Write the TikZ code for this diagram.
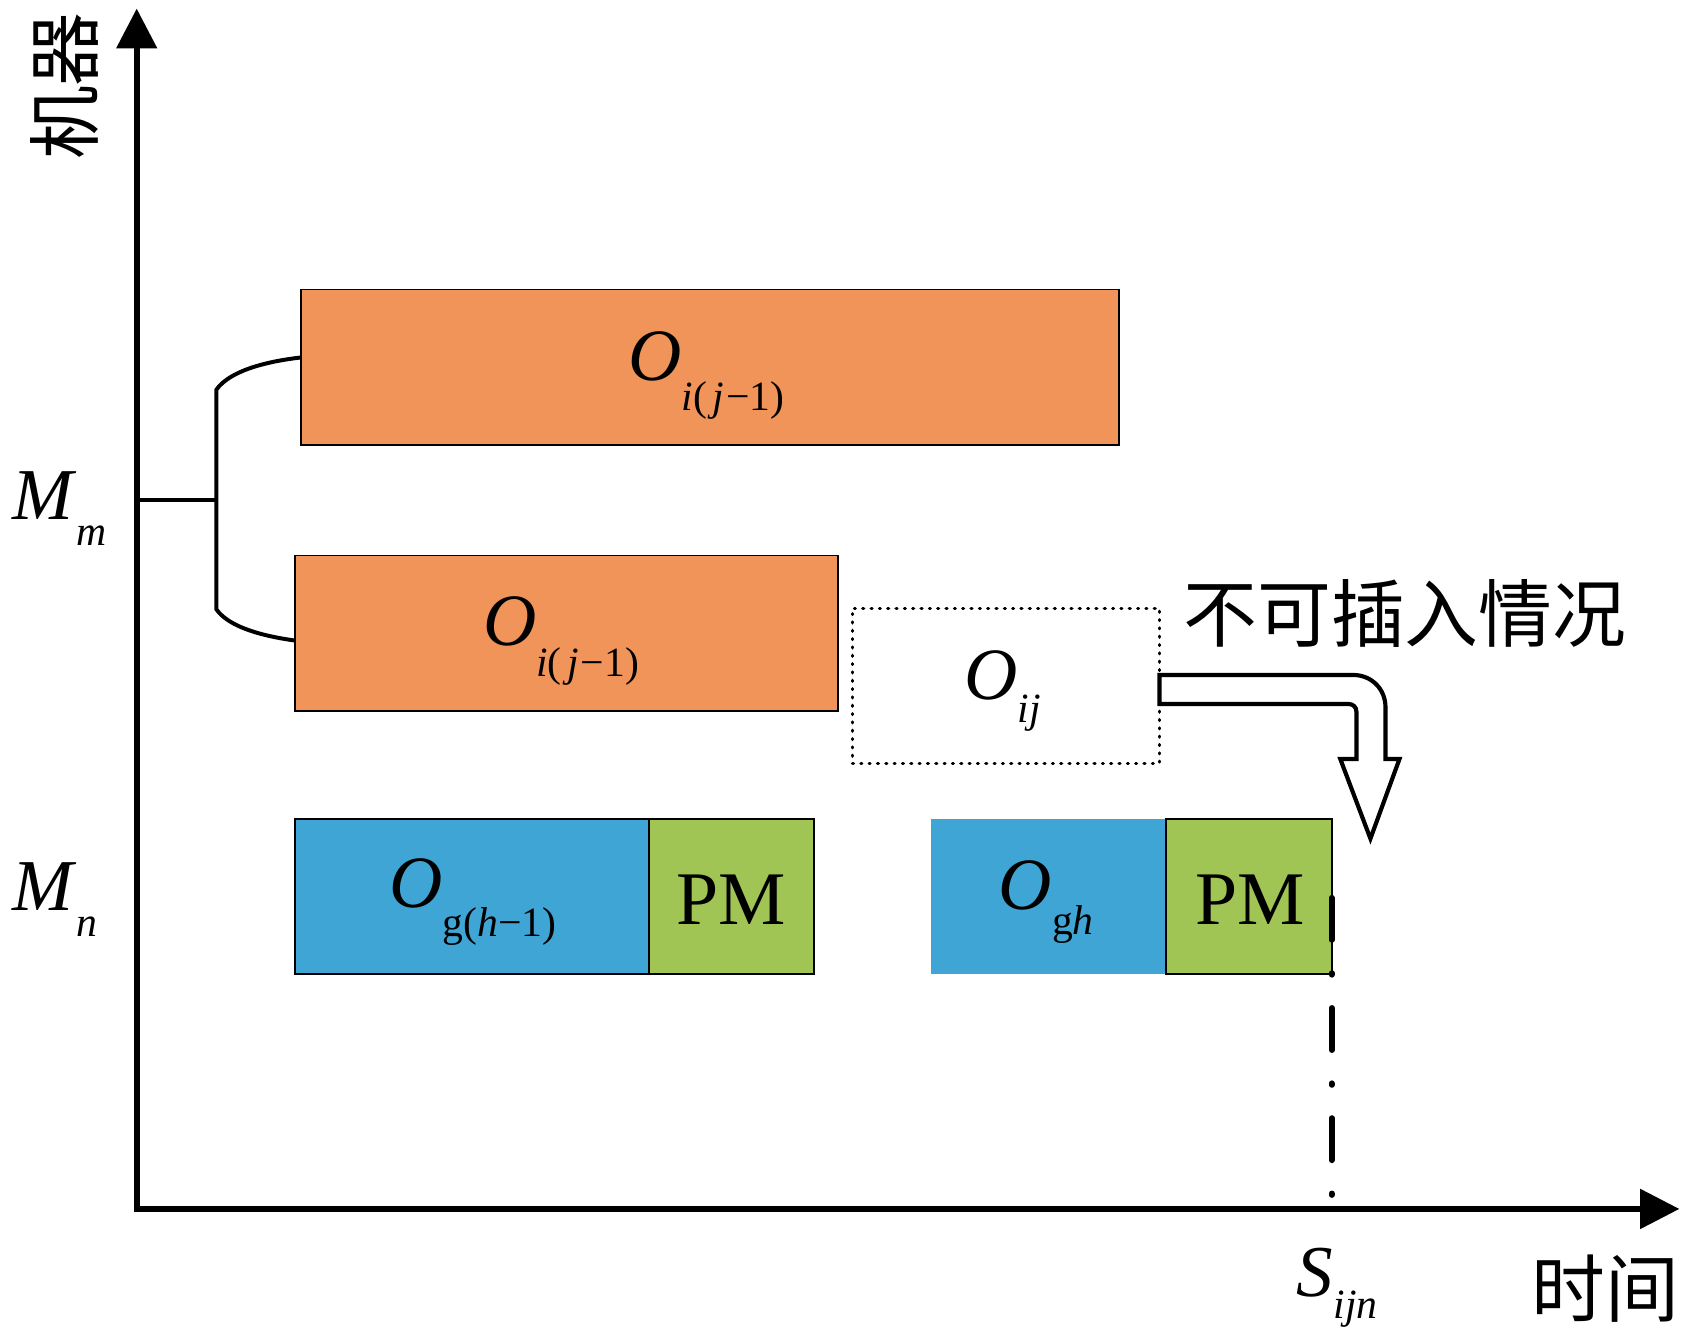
\documentclass[tikz,border=0pt]{standalone}
\usepackage{fontspec}
\setmainfont{Liberation Serif}
\newfontfamily\cjk{Noto Sans CJK SC}
\usetikzlibrary{arrows.meta}
\definecolor{oporange}{RGB}{240,148,90}
\definecolor{opblue}{RGB}{62,165,213}
\definecolor{pmgreen}{RGB}{160,197,85}
\newcommand{\bigO}[2]{{\fontsize{19.5}{22}\selectfont\textit{O}}\raisebox{-#2}{\fontsize{11}{13}\selectfont #1}}
\newcommand{\axlab}[3]{{\fontsize{19.3}{22}\selectfont\textit{#1}}\raisebox{-#3}{\fontsize{11}{13}\selectfont\textit{#2}}}
\begin{document}
\begin{tikzpicture}[x=0.01cm,y=-0.01cm,
  axis/.style={line width=1.5pt},
  brk/.style={line width=1.05pt},
  opbox/.style={draw=black,line width=0.5pt,inner sep=0,minimum height=1.44cm},
  dotbox/.style={draw=black,line width=0.85pt,dash pattern=on 0.25pt off 1.95pt,line cap=round,inner sep=0,minimum height=1.44cm},
  lbl/.style={inner sep=0,anchor=base west},
  pmtext/.style={inner sep=0,anchor=base,font=\fontsize{20}{22}\selectfont},
  cjktext/.style={inner sep=0,font=\cjk\fontsize{19.5}{22}\selectfont},
  bent/.style={draw=black,line width=1.1pt,fill=white,line join=miter},
  dashdot/.style={line width=1.55pt,line cap=round,dash pattern=on 11.1pt off 8.8pt on 0.4pt off 8.8pt}]
\useasboundingbox (0,0) rectangle (1568,1245);
% axes
\coordinate (ytip) at (127,8);
\coordinate (origin) at (127,1123);
\coordinate (xtip) at (1560,1123);
\draw[axis,{Triangle[length=10.5pt,width=10.5pt]}-{Triangle[length=10.4pt,width=10.3pt]}] (ytip) -- (origin) -- (xtip);
% boxes
\node[opbox,fill=oporange,minimum width=7.59cm] (b1) at (659.5,341) {};
\node[opbox,fill=oporange,minimum width=5.04cm] (b2) at (526,588) {};
\node[dotbox,minimum width=2.85cm] (dbox) at (934.5,637) {};
\node[opbox,fill=opblue,minimum width=3.29cm] (bl1) at (438.5,833) {};
\node[opbox,fill=pmgreen,minimum width=1.53cm] (gr1) at (679.5,833) {};
\node[opbox,draw=none,fill=opblue,minimum width=2.18cm] (bl2) at (974,833) {};
\node[opbox,fill=pmgreen,minimum width=1.54cm] (gr2) at (1160,833) {};
% bracket
\coordinate (mm) at (127,464);
\coordinate (bj) at (201,464);
\coordinate (bt) at (280,332);
\coordinate (bb) at (274,595);
\draw[brk] (mm) -- (bj);
\draw[brk] (bt) .. controls (245,336) and (213,345) .. (201,362) -- (201,566) .. controls (213,583) and (245,591) .. (bb);
% bent arrow
\draw[bent] (1077,627) -- (1257,627) .. controls (1274,627) and (1287,640) .. (1287,657)
  -- (1287,705) -- (1300,705) -- (1273,779) -- (1245,705) -- (1260,705) -- (1260,661)
  .. controls (1260,657) and (1257,654) .. (1253,654) -- (1077,654) -- cycle;
% dash-dot line
\coordinate (ddtop) at (1237,834);
\coordinate (ddbot) at (1237,1110);
\draw[dashdot] (ddtop) -- (ddbot);
% labels
\node[lbl] (l1) at (583,353) {\bigO{\textit{i}(\kern1.5pt\textit{j}\kern0.5pt−1)}{8pt}};
\node[lbl] (l2) at (448,600) {\bigO{\textit{i}(\kern1.5pt\textit{j}\kern0.5pt−1)}{8pt}};
\node[lbl] (l3) at (895,650) {\bigO{\textit{ij}}{6pt}};
\node[lbl] (l4) at (361,843) {\bigO{g(\textit{h}−1)}{7.7pt}};
\node[lbl] (l5) at (927,845) {\bigO{g\textit{h}}{6.5pt}};
\node[pmtext] (pm1) at (679.5,859) {PM};
\node[pmtext] (pm2) at (1161,859) {PM};
\node[lbl] (mml) at (11,483) {\axlab{M}{m}{6.8pt}};
\node[lbl] (mnl) at (11,846) {\axlab{M}{n}{6.7pt}};
\node[lbl] (sl) at (1204,1204) {\axlab{S}{ijn}{5.8pt}};
\node[cjktext] (nocase) at (1305,570) {不可插入情况};
\node[cjktext] (tlab) at (1491,1197) {时间};
\node[cjktext,rotate=90] (jlab) at (60,80) {机器};
\end{tikzpicture}
\end{document}
